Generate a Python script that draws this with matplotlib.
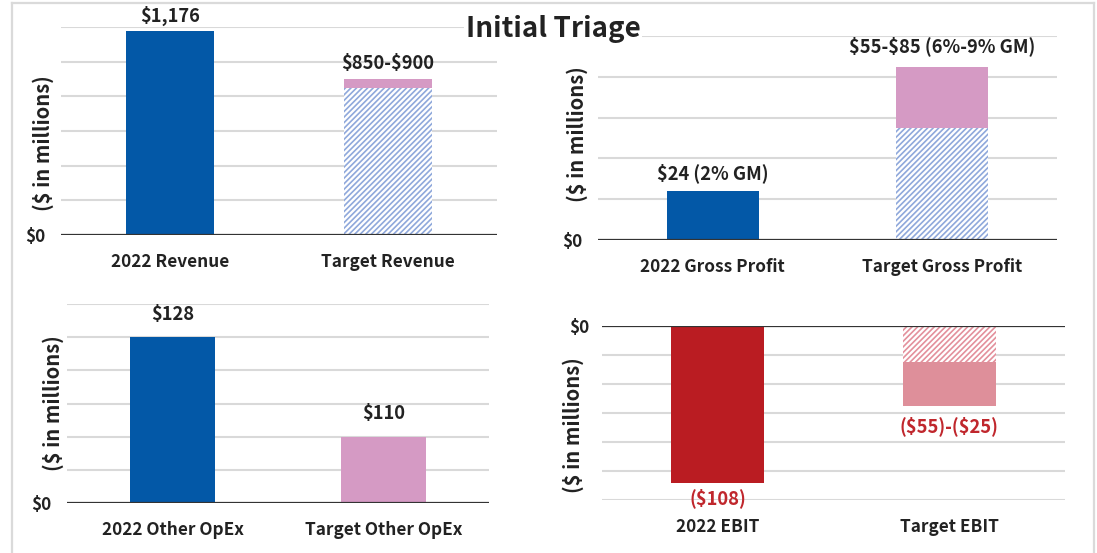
import matplotlib
matplotlib.use("Agg")
import matplotlib.pyplot as plt
from matplotlib.lines import Line2D
import numpy as np

plt.rcParams['font.family'] = ['Noto Sans CJK SC', 'DejaVu Sans']
plt.rcParams['font.weight'] = 'bold'
plt.rcParams['hatch.linewidth'] = 1.2
plt.rcParams['text.parse_math'] = False

# ---- data ----
rev_cats = ["2022 Revenue", "Target Revenue"]
rev_actual = 1176
rev_target_low, rev_target_high = 850, 900
rev_labels = ["$1,176", "$850-$900"]

gp_cats = ["2022 Gross Profit", "Target Gross Profit"]
gp_actual = 24
gp_target_low, gp_target_high = 55, 85
gp_labels = ["$24 (2% GM)", "$55-$85 (6%-9% GM)"]

opex_cats = ["2022 Other OpEx", "Target Other OpEx"]
opex_values = [128, 110]
opex_labels = ["$128", "$110"]

ebit_cats = ["2022 EBIT", "Target EBIT"]
ebit_actual = -108
ebit_target_low, ebit_target_high = -55, -25
ebit_labels = ["($108)", "($55)-($25)"]

BLUE = "#0358A7"
PINK = "#D59AC4"
RED = "#BA1C22"
LRED = "#DE8F9A"
HBLUE = "#8FA8DB"
HRED = "#E3909C"
TXT = "#222222"
LBLRED = "#C0272D"
GRID = "#D9D9D9"
FS = 12.4
VFS = 13.2
YFS = 14.5
FAM = ['Noto Sans CJK SC', 'DejaVu Sans']

W, H = 1097, 553
fig = plt.figure(figsize=(W / 100, H / 100), dpi=100)

def px_axes(x0, x1, ytop, ybot):
    return fig.add_axes([x0 / W, 1 - ybot / H, (x1 - x0) / W, (ybot - ytop) / H])

def style(ax, cats, ylim, step, zero_at, ylab_xy, ypad):
    ax.set_xlim(-0.5, 1.5)
    ax.set_ylim(*ylim)
    ticks = np.arange(ylim[0], ylim[1] + step / 2, step)
    ax.set_yticks(ticks)
    ax.set_yticklabels(["$0" if abs(t - zero_at) < 1e-9 else "" for t in ticks],
                       family=FAM, fontweight='bold')
    ax.set_xticks([0, 1])
    ax.set_xticklabels(cats, family=FAM, fontweight='bold')
    ax.tick_params(axis='both', length=0, labelsize=FS, colors=TXT)
    ax.tick_params(axis='x', pad=13)
    ax.tick_params(axis='y', pad=ypad)
    for s in ax.spines.values():
        s.set_visible(False)
    ax.grid(axis='y', color=GRID, linewidth=1.5)
    ax.set_axisbelow(True)
    ax.axhline(zero_at, color="#333333", linewidth=1.6, zorder=3)
    ax.set_ylabel("($ in millions)", fontsize=YFS, color=TXT, family=FAM, fontweight='bold')
    ax.yaxis.set_label_coords(*ylab_xy)

def lab(ax, x, y, s, dy, color=TXT):
    ax.annotate(s, (x, y), xytext=(0, dy), textcoords='offset points',
                ha='center', va='center', fontsize=VFS, family=FAM, fontweight='bold', color=color)

bw = 0.4
HATCH = '/' * 6

# Panel 1 - Revenue
ax1 = px_axes(61, 497, 27, 235)
style(ax1, rev_cats, (0, 1200), 200, 0, (-0.016, 0.44), 11)
ax1.bar(0, rev_actual, width=bw, color=BLUE, zorder=2)
ax1.bar(1, rev_target_low, width=bw, facecolor='white', edgecolor=HBLUE, hatch=HATCH, linewidth=0, zorder=2)
ax1.bar(1, rev_target_high - rev_target_low, bottom=rev_target_low, width=bw, color=PINK, zorder=2)
lab(ax1, 0, rev_actual, rev_labels[0], 11)
lab(ax1, 1, rev_target_high, rev_labels[1], 11)

# Panel 2 - Gross profit
ax2 = px_axes(598, 1057, 36, 240)
style(ax2, gp_cats, (0, 100), 20, 0, (-0.022, 0.52), 11)
ax2.bar(0, gp_actual, width=bw, color=BLUE, zorder=2)
ax2.bar(1, gp_target_low, width=bw, facecolor='white', edgecolor=HBLUE, hatch=HATCH, linewidth=0, zorder=2)
ax2.bar(1, gp_target_high - gp_target_low, bottom=gp_target_low, width=bw, color=PINK, zorder=2)
lab(ax2, 0, gp_actual, gp_labels[0], 13)
lab(ax2, 1, gp_target_high, gp_labels[1], 15)

# Panel 3 - Other OpEx (axis floor drawn at 98, labelled $0)
ax3 = px_axes(67, 489, 304, 503)
style(ax3, opex_cats, (98, 134), 6, 98, (-0.007, 0.5), 11)
ax3.bar([0, 1], opex_values, width=bw, color=[BLUE, PINK], zorder=2)
lab(ax3, 0, opex_values[0], opex_labels[0], 16)
lab(ax3, 1, opex_values[1], opex_labels[1], 17)

# Panel 4 - EBIT
ax4 = px_axes(602, 1065, 326, 500)
style(ax4, ebit_cats, (-120, 0), 20, 0, (-0.039, 0.43), 9)
ax4.bar(0, ebit_actual, width=bw, color=RED, zorder=2)
ax4.bar(1, ebit_target_high, width=bw, facecolor='white', edgecolor=HRED, hatch=HATCH, linewidth=0, zorder=2)
ax4.bar(1, ebit_target_low - ebit_target_high, bottom=ebit_target_high, width=bw, color=LRED, zorder=2)
lab(ax4, 0, ebit_actual, ebit_labels[0], -11, LBLRED)
lab(ax4, 1, ebit_target_low, ebit_labels[1], -15, LBLRED)

# Title
fig.text(553 / W, 1 - 37 / H, "Initial Triage", ha='center', va='baseline',
         fontsize=20, family=FAM, fontweight='bold', color=TXT,
         bbox=dict(facecolor='white', edgecolor='none', pad=1))

# Border
for xs, ys in [([12, 12], [3, H]), ([12, 1094], [3, 3]), ([1094, 1094], [3, H])]:
    fig.add_artist(Line2D([x / W for x in xs], [1 - y / H for y in ys],
                          color="#DADADA", linewidth=1.6, transform=fig.transFigure))

fig.savefig("out.png", dpi=100, facecolor='white')
